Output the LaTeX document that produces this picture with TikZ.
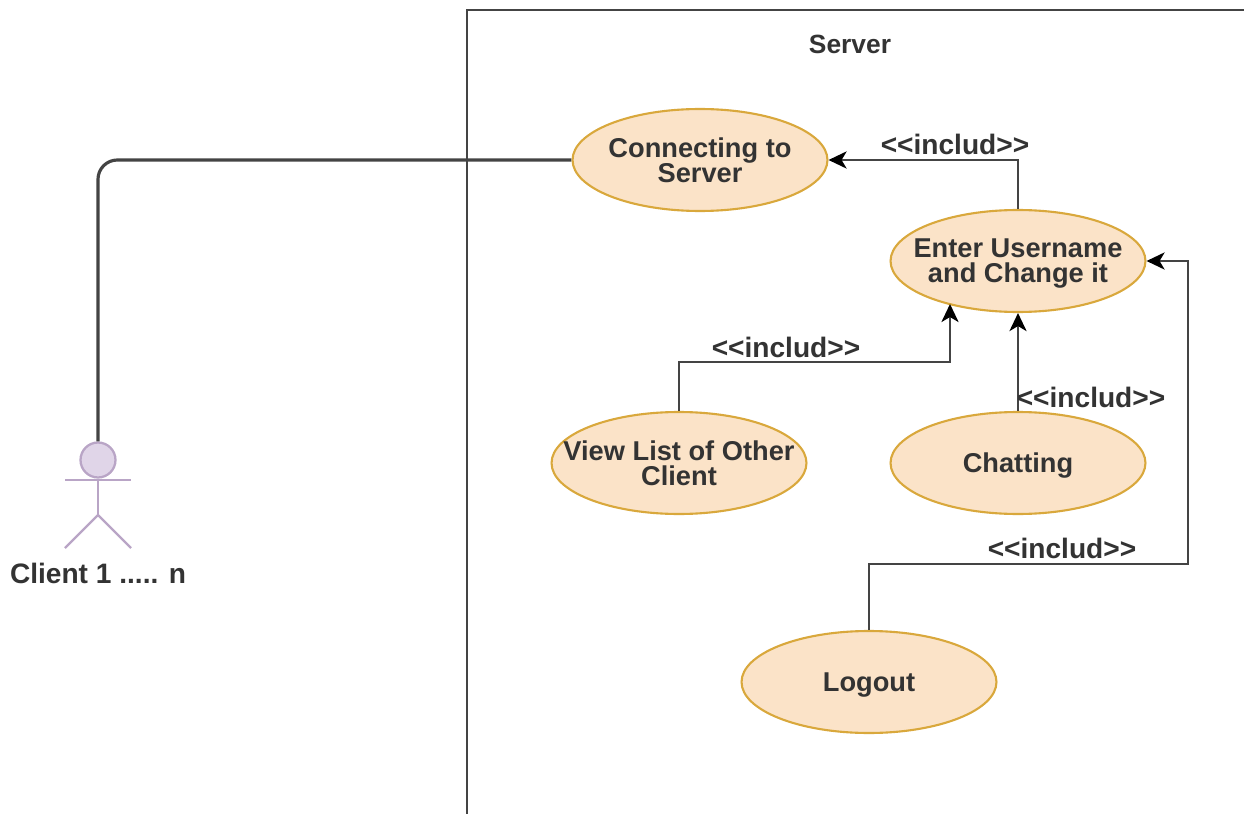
\documentclass[tikz,border=0pt]{standalone}
\usepackage{fontspec}
\setmainfont{Liberation Sans}
\usetikzlibrary{shapes.geometric,arrows.meta}
\definecolor{usefill}{HTML}{FBE3C8}
\definecolor{usedraw}{HTML}{D9A83C}
\definecolor{actorfill}{HTML}{E0D5E8}
\definecolor{actordraw}{HTML}{B9A5C6}
\definecolor{linecol}{HTML}{444444}
\newcommand{\nodepth}[1]{\raisebox{0pt}[\height][0pt]{#1}}
\tikzset{
    usecase/.style={ellipse, draw=usedraw, fill=usefill, line width=1.2pt, minimum width=5.1cm, minimum height=2.04cm, inner xsep=-70pt, inner ysep=-20pt, align=center, font=\fontsize{15.5}{14.2}\selectfont\bfseries, text=black!80},
    link/.style={draw=linecol, line width=1.65pt, -{Stealth[length=0.36cm,width=0.34cm,inset=0.1cm,color=black]}},
    tag/.style={font=\fontsize{16}{18}\selectfont\bfseries, text=black!80, inner sep=0pt},
    limb/.style={draw=actordraw, line width=1.3pt}
}
\begin{document}
\begin{tikzpicture}[x=0.02cm,y=-0.02cm]
    \useasboundingbox (0,0) rectangle (1244,814);
    % server box
    \coordinate (boxbottom) at (467,814);
    \coordinate (boxtop) at (467,10);
    \coordinate (boxright) at (1244,10);
    \draw[linecol, line width=1.3pt] (boxbottom) -- (boxtop) -- (boxright);
    \node[tag, font=\fontsize{15}{17}\selectfont\bfseries] (server) at (850,44) {Server};

    % use cases
    \node[usecase] (connect) at (700,160) {Connecting to\\Server};
    \node[usecase] (enter) at (1018,261) {Enter Username\\\nodepth{and Change it}};
    \node[usecase] (view) at (679,463) {View List of Other\\Client};
    \node[usecase] (chat) at (1018,463) {\nodepth{Chatting}};
    \node[usecase] (logout) at (869,682) {\nodepth{Logout}};

    % actor
    \node[circle, draw=actordraw, fill=actorfill, line width=1.3pt, minimum size=0.7cm, inner sep=0pt] (head) at (98,460) {};
    \coordinate (armleft) at (65,480);
    \coordinate (armright) at (131,480);
    \coordinate (hip) at (98,515);
    \coordinate (footleft) at (65,548);
    \coordinate (footright) at (131,548);
    \draw[limb] (head.south) -- (hip);
    \draw[limb] (armleft) -- (armright);
    \draw[limb] (footleft) -- (hip) -- (footright);
    \node[tag] (client) at (98,573) {Client 1 ..... n};

    % connectors
    \coordinate (corner) at (98,160);
    \draw[draw=linecol, line width=1.8pt, rounded corners=11pt] (head.north) -- (corner) -- (connect.west);
    \draw[link] (enter.north) |- (connect.east);
    \draw[link] (view.north) |- (950,362) -- (950,304);
    \draw[link] (chat.north) -- (enter.south);
    \draw[link] (logout.north) |- (1188,564) |- (enter.east);

    % labels
    \node[tag] (tagone) at (955,144) {<{}<includ>{}>};
    \node[tag] (tagtwo) at (786,347) {<{}<includ>{}>};
    \node[tag] (tagthree) at (1091,397) {<{}<includ>{}>};
    \node[tag] (tagfour) at (1062,548) {<{}<includ>{}>};
\end{tikzpicture}
\end{document}
